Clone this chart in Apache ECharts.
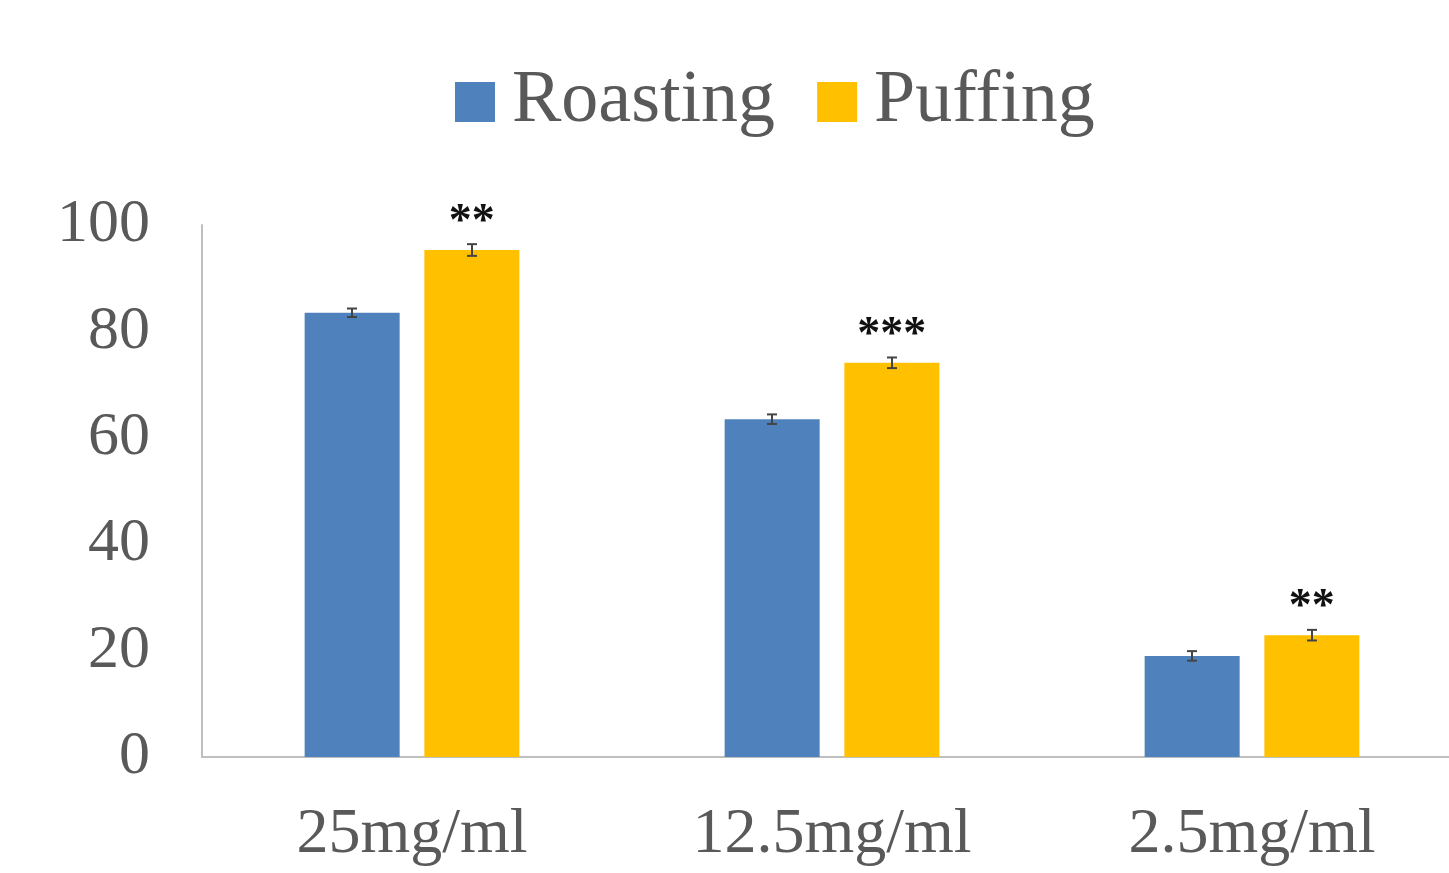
<!DOCTYPE html>
<html>
<head>
<meta charset="utf-8">
<script src="https://cdn.jsdelivr.net/npm/echarts@6/dist/echarts.min.js"></script>
<style>
  html, body { margin: 0; padding: 0; background: #fff; overflow: hidden; }
  /* 坐标轴延伸到画面右边之外, 容器略宽于窗口 */
  #chart { width: 1462px; height: 873px; }
</style>
</head>
<body>
<div id="chart"></div>
<script>
// 数据
var categories = ['25mg/ml', '12.5mg/ml', '2.5mg/ml'];
var roasting = [83.5, 63.5, 19.0];
var puffing = [95.3, 74.1, 22.9];
var roastingErr = [0.8, 0.9, 0.9];
var puffingErr = [1.1, 1.0, 1.0];
var puffingSig = ['**', '***', '**'];
var yTicks = [0, 20, 40, 60, 80, 100];

var serif = '"Liberation Serif", "DejaVu Serif", serif';
var myChart = echarts.init(document.getElementById('chart'));

// 误差线 (custom series)
function errorSeries(name, values, errs, side) {
    var data = values.map(function (v, i) { return [i, v - errs[i], v + errs[i]]; });
    return {
        name: name + ' err',
        type: 'custom',
        z: 5,
        renderItem: function (params, api) {
            var lo = api.coord([api.value(0), api.value(1)]);
            var hi = api.coord([api.value(0), api.value(2)]);
            // 柱子中心偏移: (柱宽 + 间距) / 2
            var x = lo[0] + side * (95 + 25) / 2;
            var half = 5;
            var style = { stroke: '#444', lineWidth: 2 };
            return {
                type: 'group',
                children: [
                    { type: 'line', shape: { x1: x, y1: lo[1], x2: x, y2: hi[1] }, style: style },
                    { type: 'line', shape: { x1: x - half, y1: lo[1], x2: x + half, y2: lo[1] }, style: style },
                    { type: 'line', shape: { x1: x - half, y1: hi[1], x2: x + half, y2: hi[1] }, style: style }
                ]
            };
        },
        data: data
    };
}

myChart.setOption({
    animation: false,
    backgroundColor: '#fff',
    legend: {
        data: ['Roasting', 'Puffing'],
        left: 450,
        top: 60,
        itemWidth: 40,
        itemHeight: 40,
        itemGap: 42,
        icon: 'rect',
        textStyle: { fontFamily: serif, fontSize: 74, color: '#595959', padding: [0, 0, 0, 12] }
    },
    grid: { left: 202, top: 225, right: 0, bottom: 116 },
    xAxis: {
        type: 'category',
        data: categories,
        axisLine: { lineStyle: { color: '#bfbfbf', width: 2 } },
        axisTick: { show: false },
        axisLabel: { fontFamily: serif, fontSize: 64, color: '#595959', margin: 46 }
    },
    yAxis: {
        type: 'value',
        min: yTicks[0],
        max: yTicks[yTicks.length - 1],
        interval: 20,
        axisLine: { show: true, lineStyle: { color: '#bfbfbf', width: 2 } },
        axisTick: { show: false },
        splitLine: { show: false },
        axisLabel: { fontFamily: serif, fontSize: 62, color: '#595959', margin: 52 }
    },
    series: [
        {
            name: 'Roasting',
            type: 'bar',
            data: roasting,
            barWidth: 95,
            barGap: '26%',
            itemStyle: { color: '#4f81bd' }
        },
        {
            name: 'Puffing',
            type: 'bar',
            data: puffing,
            barWidth: 95,
            itemStyle: { color: '#ffc000' },
            label: {
                show: true,
                position: 'top',
                distance: 4,
                formatter: function (p) { return puffingSig[p.dataIndex]; },
                fontFamily: serif,
                fontSize: 46,
                fontWeight: 'bold',
                color: '#111'
            }
        },
        errorSeries('Roasting', roasting, roastingErr, -1),
        errorSeries('Puffing', puffing, puffingErr, 1)
    ]
});
</script>
</body>
</html>
